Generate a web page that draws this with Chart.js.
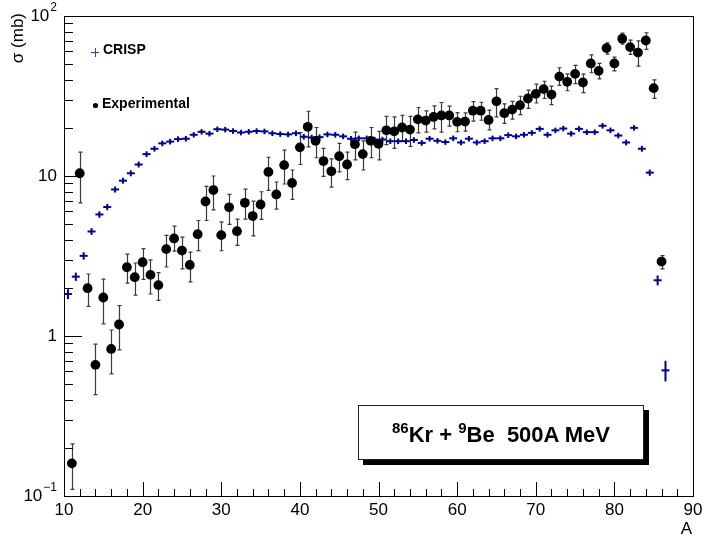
<!DOCTYPE html>
<html>
<head>
<meta charset="utf-8">
<script src="https://cdn.jsdelivr.net/npm/chart.js@4.4.1/dist/chart.umd.min.js"></script>
<style>
  html, body { margin: 0; padding: 0; background: #fff; }
  #wrap { position: relative; width: 706px; height: 537px; }
  #chart { position: absolute; left: 0; top: 0; }
  .leg { position: absolute; font: bold 14px "Liberation Sans", Arial, sans-serif; color: #000; white-space: nowrap; }
  #box {
    position: absolute; left: 358px; top: 405px; width: 284px; height: 53px;
    border: 1px solid #222; background: #fff; box-shadow: 5px 5px 0 #000;
    font: bold 22px "Liberation Sans", Arial, sans-serif; color: #000;
    text-align: center; line-height: 57px; white-space: nowrap;
  }
  #box sup { font-size: 15px; vertical-align: 9px; line-height: 0; }
</style>
</head>
<body>
<div id="wrap">
  <canvas id="chart" width="706" height="537"></canvas>
  <div class="leg" style="left:103px; top:41px;">CRISP</div>
  <div class="leg" style="left:102px; top:95px;">Experimental</div>
  <div id="box"><sup>86</sup>Kr + <sup>9</sup>Be&nbsp;&nbsp;500A MeV</div>
</div>
<script>
// данные эксперимента
const expA = [11, 12, 13, 14, 15, 16, 17, 18, 19, 20, 21, 22, 23, 24, 25, 26, 27, 28, 29, 30,
  31, 32, 33, 34, 35, 36, 37, 38, 39, 40, 41, 42, 43, 44, 45, 46, 47, 48, 49, 50,
  51, 52, 53, 54, 55, 56, 57, 58, 59, 60, 61, 62, 63, 64, 65, 66, 67, 68, 69, 70,
  71, 72, 73, 74, 75, 76, 77, 78, 79, 80, 81, 82, 83, 84, 85, 86]
const expValue = [0.160, 10.4, 1.99, 0.66, 1.74, 0.83, 1.18, 2.69, 2.33, 2.89, 2.41, 2.08, 3.49, 4.07, 3.42, 2.78, 4.33, 6.93, 8.17, 4.27,
  6.37, 4.52, 6.80, 5.62, 6.64, 10.6, 7.67, 11.7, 9.04, 15.1, 20.3, 16.6, 12.4, 10.7, 13.3, 11.8, 15.8, 13.7, 16.6, 15.9,
  19.3, 19.0, 20.1, 19.5, 22.6, 22.2, 23.4, 23.9, 23.9, 21.8, 21.9, 25.6, 25.6, 22.4, 29.3, 24.7, 26.0, 27.7, 30.5, 32.6,
  34.9, 32.3, 41.8, 38.8, 43.5, 38.4, 50.5, 45.4, 63.0, 50.5, 72.1, 63.9, 59.1, 70.3, 35.4, 2.92]
const expHigh = [0.212, 14.1, 2.44, 0.89, 2.27, 1.09, 1.55, 3.25, 2.86, 3.52, 2.99, 2.49, 4.25, 4.86, 4.15, 3.34, 5.27, 8.61, 10.0, 5.17,
  7.67, 5.38, 8.29, 6.97, 7.97, 13.1, 9.17, 14.5, 10.9, 18.7, 25.4, 20.1, 14.9, 12.8, 16.0, 14.1, 18.8, 16.6, 20.1, 19.0,
  23.6, 23.4, 23.9, 23.6, 26.8, 25.5, 27.4, 28.8, 27.3, 24.9, 24.8, 29.2, 28.9, 25.8, 35.2, 28.2, 29.3, 31.5, 34.4, 37.5,
  39.1, 36.4, 47.5, 43.5, 49.1, 43.3, 57.2, 50.5, 68.0, 55.4, 78.2, 70.7, 70.0, 78.6, 39.9, 3.18]
const expLow = [0.110, 6.8, 1.53, 0.43, 1.19, 0.58, 0.82, 2.14, 1.80, 2.26, 1.83, 1.67, 2.70, 3.39, 2.63, 2.18, 3.42, 5.27, 6.15, 3.41,
  4.98, 3.68, 5.38, 4.23, 5.35, 8.13, 6.21, 8.91, 7.14, 11.8, 15.2, 13.0, 9.95, 8.53, 10.6, 9.48, 12.6, 10.9, 13.0, 12.6,
  15.7, 14.9, 16.6, 15.3, 18.6, 18.8, 19.7, 18.8, 20.5, 18.9, 19.1, 22.0, 22.3, 19.4, 23.4, 21.3, 22.7, 24.2, 26.5, 28.6,
  30.5, 27.9, 36.9, 34.1, 37.8, 33.2, 44.2, 40.5, 57.7, 45.4, 66.7, 57.5, 48.6, 61.8, 30.6, 2.63]

// расчёт CRISP (центры бинов)
const crispA = [10.5, 11.5, 12.5, 13.5, 14.5, 15.5, 16.5, 17.5, 18.5, 19.5, 20.5, 21.5, 22.5, 23.5, 24.5, 25.5, 26.5, 27.5, 28.5, 29.5,
  30.5, 31.5, 32.5, 33.5, 34.5, 35.5, 36.5, 37.5, 38.5, 39.5, 40.5, 41.5, 42.5, 43.5, 44.5, 45.5, 46.5, 47.5, 48.5, 49.5,
  50.5, 51.5, 52.5, 53.5, 54.5, 55.5, 56.5, 57.5, 58.5, 59.5, 60.5, 61.5, 62.5, 63.5, 64.5, 65.5, 66.5, 67.5, 68.5, 69.5,
  70.5, 71.5, 72.5, 73.5, 74.5, 75.5, 76.5, 77.5, 78.5, 79.5, 80.5, 81.5, 82.5, 83.5, 84.5, 85.5, 86.5]
const crispValue = [1.83, 2.35, 3.17, 4.50, 5.75, 6.40, 8.24, 9.35, 10.4, 11.8, 13.7, 14.8, 16.0, 16.4, 17.0, 17.1, 18.1, 18.9, 18.4, 19.6,
  19.5, 19.1, 18.7, 18.9, 19.1, 19.0, 18.5, 18.3, 18.2, 18.5, 17.6, 17.4, 17.5, 18.2, 18.1, 17.7, 17.1, 17.2, 17.2, 16.9,
  16.9, 16.5, 16.5, 16.5, 16.8, 16.1, 17.1, 16.6, 16.3, 17.2, 16.2, 17.1, 16.2, 16.5, 17.2, 17.2, 18.0, 17.7, 18.1, 18.6,
  19.7, 18.1, 19.3, 19.8, 18.4, 19.7, 18.8, 18.8, 20.6, 19.3, 17.9, 16.2, 20.0, 14.8, 10.5, 2.23, 0.61]
const crispErr = [0.13, 0.14, 0.17, 0.22, 0.27, 0.29, 0.36, 0.40, 0.44, 0.50, 0.57, 0.60, 0.65, 0.66, 0.68, 0.69, 0.72, 0.75, 0.73, 0.77,
  0.77, 0.76, 0.74, 0.75, 0.76, 0.75, 0.74, 0.73, 0.73, 0.74, 0.71, 0.70, 0.70, 0.73, 0.73, 0.71, 0.69, 0.69, 0.69, 0.68,
  0.68, 0.66, 0.66, 0.66, 0.67, 0.65, 0.68, 0.66, 0.65, 0.69, 0.65, 0.68, 0.65, 0.66, 0.69, 0.69, 0.72, 0.71, 0.72, 0.74,
  0.78, 0.72, 0.77, 0.79, 0.74, 0.78, 0.75, 0.75, 0.82, 0.77, 0.72, 0.66, 0.80, 0.62, 0.47, 0.16, 0.09]

// оси
const xTicks = [10, 20, 30, 40, 50, 60, 70, 80, 90]
const xMinor = [12, 14, 16, 18, 22, 24, 26, 28, 32, 34, 36, 38, 42, 44, 46, 48, 52, 54, 56, 58,
  62, 64, 66, 68, 72, 74, 76, 78, 82, 84, 86, 88]
const yDecades = [0.1, 1, 10, 100]
const yLabelBase = ["10", "1", "10", "10"]
const yLabelExp = ["\u22121", "", "", "2"]
const yMinorSteps = [2, 3, 4, 5, 6, 7, 8, 9]

const FONT = '"Liberation Sans", Arial, sans-serif'
const CRISP_COLOR = "#00008f"


// усы ошибок
const errorBars = {
  id: "errorBars",
  beforeDatasetsDraw(chart) {
    const ctx = chart.ctx
    const xs = chart.scales.x
    const ys = chart.scales.y
    const area = chart.chartArea

    ctx.save()
    ctx.beginPath()
    ctx.rect(area.left, area.top, area.right - area.left, area.bottom - area.top)
    ctx.clip()

    // эксперимент
    ctx.strokeStyle = "#3a3a3a"
    ctx.lineWidth = 1.2
    expA.forEach(function (a, i) {
      const x = Math.round(xs.getPixelForValue(a)) + 0.5
      const y1 = ys.getPixelForValue(expHigh[i])
      const y2 = ys.getPixelForValue(expLow[i])
      ctx.beginPath()
      ctx.moveTo(x, y1)
      ctx.lineTo(x, y2)
      ctx.moveTo(x - 2, y1)
      ctx.lineTo(x + 2, y1)
      ctx.moveTo(x - 2, y2)
      ctx.lineTo(x + 2, y2)
      ctx.stroke()
    })

    // CRISP
    ctx.strokeStyle = CRISP_COLOR
    ctx.lineWidth = 2
    crispA.forEach(function (a, i) {
      const x = xs.getPixelForValue(a)
      ctx.beginPath()
      ctx.moveTo(x, ys.getPixelForValue(crispValue[i] + crispErr[i]))
      ctx.lineTo(x, ys.getPixelForValue(crispValue[i] - crispErr[i]))
      ctx.stroke()
    })

    ctx.restore()
  },
}


// рамка, засечки и подписи
const frame = {
  id: "frame",
  afterDraw(chart) {
    const ctx = chart.ctx
    const xs = chart.scales.x
    const ys = chart.scales.y
    const a = chart.chartArea

    ctx.save()
    ctx.strokeStyle = "#000"
    ctx.lineWidth = 1
    ctx.strokeRect(Math.round(a.left) + 0.5, Math.round(a.top) + 0.5,
      Math.round(a.right - a.left), Math.round(a.bottom - a.top))

    // засечки X
    ctx.beginPath()
    xTicks.forEach(function (v) {
      const x = Math.round(xs.getPixelForValue(v)) + 0.5
      ctx.moveTo(x, a.bottom)
      ctx.lineTo(x, a.bottom - 14)
    })
    xMinor.forEach(function (v) {
      const x = Math.round(xs.getPixelForValue(v)) + 0.5
      ctx.moveTo(x, a.bottom)
      ctx.lineTo(x, a.bottom - 7)
    })

    // засечки Y
    yDecades.forEach(function (d, i) {
      const y = Math.round(ys.getPixelForValue(d)) + 0.5
      ctx.moveTo(a.left, y)
      ctx.lineTo(a.left + 18, y)
      if (i < yDecades.length - 1) {
        yMinorSteps.forEach(function (m) {
          const ym = Math.round(ys.getPixelForValue(d * m)) + 0.5
          ctx.moveTo(a.left, ym)
          ctx.lineTo(a.left + 9, ym)
        })
      }
    })
    ctx.stroke()

    // подписи X
    ctx.fillStyle = "#000"
    ctx.font = "17px " + FONT
    ctx.textAlign = "center"
    ctx.textBaseline = "top"
    xTicks.forEach(function (v) {
      ctx.fillText(String(v), xs.getPixelForValue(v), a.bottom + 6)
    })

    // подписи Y
    ctx.textBaseline = "middle"
    yDecades.forEach(function (d, i) {
      const y = ys.getPixelForValue(d)
      let right = a.left - 7
      if (yLabelExp[i]) {
        ctx.font = "12px " + FONT
        ctx.textAlign = "right"
        ctx.fillText(yLabelExp[i], right, y - 8)
        right -= ctx.measureText(yLabelExp[i]).width + 1
      }
      ctx.font = "17px " + FONT
      ctx.textAlign = "right"
      ctx.fillText(yLabelBase[i], right, y)
    })

    // названия осей
    ctx.font = "17px " + FONT
    ctx.textAlign = "right"
    ctx.textBaseline = "alphabetic"
    ctx.fillText("A", a.right - 1, 534)

    ctx.translate(23, 13)
    ctx.rotate(-Math.PI / 2)
    ctx.fillText("\u03c3 (mb)", 0, 0)
    ctx.restore()

    // значки легенды
    ctx.save()
    ctx.strokeStyle = "#3b3bd9"
    ctx.lineWidth = 1
    ctx.beginPath()
    ctx.moveTo(91, 52.5)
    ctx.lineTo(99, 52.5)
    ctx.moveTo(95.5, 48)
    ctx.lineTo(95.5, 57)
    ctx.stroke()
    ctx.fillStyle = "#000"
    ctx.beginPath()
    ctx.arc(95.5, 105.5, 2.6, 0, Math.PI * 2)
    ctx.fill()
    ctx.restore()
  },
}


// рисуем график
new Chart(document.getElementById("chart"), {
  type: "scatter",
  data: {
    datasets: [
      {
        label: "Experimental",
        data: expA.map(function (a, i) { return { x: a, y: expValue[i] } }),
        pointStyle: "circle",
        pointRadius: 4.9,
        pointBackgroundColor: "#000",
        pointBorderColor: "#000",
        pointBorderWidth: 0,
      },
      {
        label: "CRISP",
        data: crispA.map(function (a, i) { return { x: a, y: crispValue[i] } }),
        pointStyle: "line",
        pointRadius: 4,
        pointBorderColor: CRISP_COLOR,
        pointBorderWidth: 2,
      },
    ],
  },
  options: {
    responsive: false,
    animation: false,
    devicePixelRatio: 1,
    layout: { padding: { left: 64, right: 13, top: 16, bottom: 41 } },
    scales: {
      x: { type: "linear", min: 10, max: 90, display: false },
      y: { type: "logarithmic", min: 0.1, max: 100, display: false },
    },
    plugins: { legend: { display: false }, tooltip: { enabled: false } },
  },
  plugins: [errorBars, frame],
})
</script>
</body>
</html>
